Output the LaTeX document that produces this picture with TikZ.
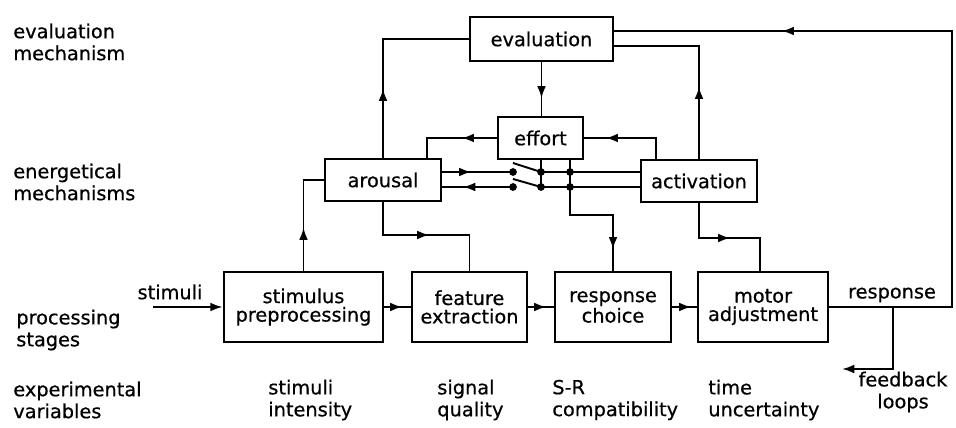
\documentclass[tikz,border=0pt]{standalone}
\usepackage{fontspec}
\setmainfont{DejaVu Sans}[FakeBold=0.6]
\usetikzlibrary{arrows.meta,decorations.markings}
\tikzset{
  >={Latex[length=7pt,width=5pt]},
  blk/.style={draw,line width=1.6pt,align=center,inner sep=1pt,font=\fontsize{11}{10.5}\selectfont},
  lbl/.style={align=left,anchor=west,inner sep=0pt},
  wire/.style={line width=1.1pt},
  arr at/.style={postaction={decorate},decoration={markings,mark=at position #1*0.02cm with {\arrow{>}}}},
}
\begin{document}
\begin{tikzpicture}[x=0.02cm,y=-0.02cm,font=\fontsize{11}{12.5}\selectfont]
        \useasboundingbox (0,0) rectangle (956,428);
        % 左側の見出し
        \node[lbl] (levEval) at (13,42) {evaluation\\mechanism};
        \node[lbl] (levEnerg) at (13,182) {energetical\\mechanisms};
        \node[lbl] (levProc) at (16,330) {processing\\stages};
        \node[lbl] (levVar) at (13,400) {experimental\\variables};
        % 評価と努力のボックス
        \node[blk,minimum width=2.86cm,minimum height=0.88cm] (eval) at (541.5,39) {evaluation};
        \node[blk,minimum width=1.7cm,minimum height=0.84cm] (effort) at (540.5,138) {effort};
        \node[blk,minimum width=2.32cm,minimum height=0.84cm] (arousal) at (383,180) {arousal};
        \node[blk,minimum width=2.32cm,minimum height=0.84cm] (activation) at (699,181) {activation};
        % 処理段階のボックス
        \node[blk,minimum width=3.18cm,minimum height=1.4cm] (stim) at (303.5,307) {stimulus\\preprocessing};
        \node[blk,minimum width=2.3cm,minimum height=1.4cm] (feature) at (469.5,307) {feature\\extraction};
        \node[blk,minimum width=2.32cm,minimum height=1.4cm] (choice) at (613,307) {response\\choice};
        \node[blk,minimum width=2.6cm,minimum height=1.4cm] (motor) at (763,307) {motor\\adjustment};
        % 実験変数
        \node[lbl] (vIntens) at (268,400) {stimuli\\intensity};
        \node[lbl] (vQual) at (437,400) {signal\\quality};
        \node[lbl] (vCompat) at (552,400) {S-R\\compatibility};
        \node[lbl] (vTime) at (708,400) {time\\uncertainty};
        % 入力と処理の流れ
        \coordinate (in) at (153,307);
        \node (stimlbl) at (170,292) {stimuli};
        \draw[wire,->] (in) -- (stim.west);
        \draw[wire,arr at=18] (stim.east) -- (feature.west);
        \draw[wire,arr at=18] (feature.east) -- (choice.west);
        \draw[wire,arr at=19] (choice.east) -- (motor.west);
        % arousal への出入り
        \draw[wire,arr at=43] (stim.north) |- (arousal.west);
        \coordinate (k1) at (469.5,235);
        \draw[wire,arr at=79] (arousal.south) |- (k1) -- (feature.north);
        \draw[wire,arr at=69] (arousal.north) |- (eval.west);
        \coordinate (k2) at (427,138);
        \draw[wire,arr at=35] (effort.west) -- (k2) -- (k2 |- arousal.north);
        % スイッチ
        \coordinate (swA) at (513,172);
        \coordinate (swB) at (513,187);
        \coordinate (jA) at (541,172);
        \coordinate (jB) at (541,187);
        \coordinate (kA) at (570,172);
        \coordinate (kB) at (570,187);
        \coordinate (bA) at (513,163);
        \coordinate (bB) at (513,179);
        \draw[wire,arr at=29] (arousal.east |- swA) -- (swA);
        \draw[wire,arr at=50] (swB) -- (arousal.east |- swB);
        \draw[wire] (jA) -- (bA);
        \draw[wire] (jB) -- (bB);
        \draw[wire] (jA) -- (activation.west |- jA);
        \draw[wire] (jB) -- (activation.west |- jB);
        \foreach \p in {swA,swB,jA,jB,kA,kB}
          \fill (\p) circle[radius=2.2pt];
        % effort からの線
        \draw[wire,arr at=36] (eval.south) -- (eval.south |- effort.north);
        \draw[wire] (effort.south -| jA) -- (jB);
        \coordinate (k3) at (570,215);
        \draw[wire,arr at=132] (effort.south -| k3) -- (k3) -| (choice.north);
        % activation への出入り
        \coordinate (k5) at (656,138);
        \draw[wire,arr at=71] (k5 |- activation.north) -- (k5) -- (effort.east);
        \coordinate (k6) at (699,46);
        \draw[wire,arr at=72] (activation.north) -- (k6) -- (eval.east |- k6);
        \coordinate (k7) at (760,238);
        \draw[wire,arr at=66] (activation.south) |- (k7) -- (k7 |- motor.north);
        % 反応とフィードバック
        \coordinate (r1) at (952,307);
        \coordinate (r2) at (952,31);
        \node (resplbl) at (892,295) {response};
        \draw[wire,arr at=569] (motor.east) -- (r1) -- (r2) -- (eval.east |- r2);
        \coordinate (f1) at (893,307);
        \coordinate (f2) at (893,369);
        \coordinate (f3) at (842,369);
        \draw[wire,->] (f1) -- (f2) -- (f3);
        \node[align=center,inner sep=0pt] (fbloops) at (903,392) {feedback\\loops};
      \end{tikzpicture}
\end{document}
